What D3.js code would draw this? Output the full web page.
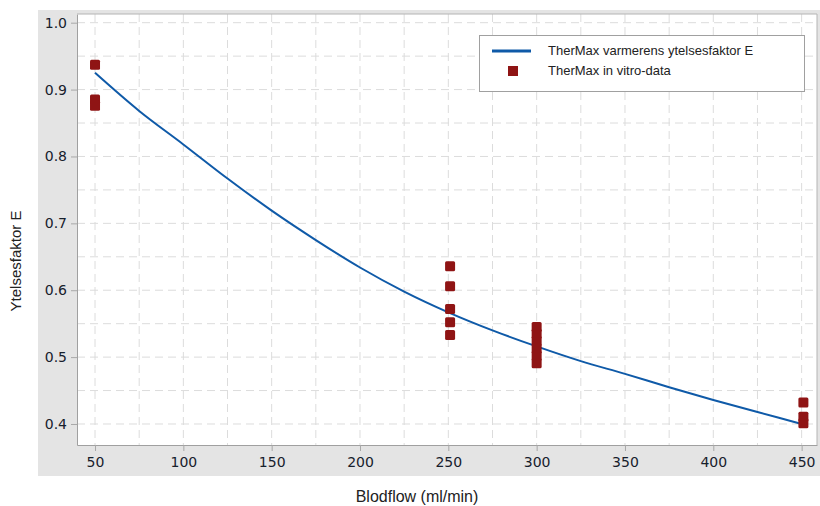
<!DOCTYPE html>
<html>
<head>
<meta charset="utf-8">
<script src="https://cdn.jsdelivr.net/npm/d3@7"></script>
<style>
  body { margin: 0; background: #fff; }
  svg { display: block; }
</style>
</head>
<body>
<div id="chart"></div>
<script>
// model curve: blood flow (ml/min) vs performance factor E
const curveFlow = [50, 75, 100, 125, 150, 175, 200, 225, 250, 275, 300, 325, 350, 375, 400, 425, 450];
const curveE = [0.925, 0.868, 0.818, 0.767, 0.719, 0.675, 0.634, 0.598, 0.567, 0.540, 0.516, 0.494, 0.475, 0.455, 0.436, 0.418, 0.400];

// in vitro measurements
const vitroFlow = [50, 50, 50, 251, 251, 251, 251, 251, 300, 300, 300, 300, 300, 300, 451, 451, 451];
const vitroE = [0.937, 0.885, 0.876, 0.636, 0.606, 0.572, 0.552, 0.533, 0.545, 0.535, 0.524, 0.513, 0.502, 0.491, 0.432, 0.411, 0.401];

const xTicks = [50, 100, 150, 200, 250, 300, 350, 400, 450];
const yTicks = [0.4, 0.5, 0.6, 0.7, 0.8, 0.9, 1.0];
const xGrid = d3.range(50, 451, 25);
const yGrid = d3.range(0.4, 1.001, 0.05);

const legendLabels = ["TherMax varmerens ytelsesfaktor E", "TherMax in vitro-data"];

const W = 820, H = 506;
const plot = {left: 77, top: 14, right: 817, bottom: 445};

const svg = d3.select("#chart").append("svg")
    .attr("width", W)
    .attr("height", H);

// gray panel behind the plot
svg.append("rect")
    .attr("x", 38).attr("y", 10)
    .attr("width", W - 38).attr("height", 466)
    .attr("fill", "#e4e4e4");

svg.append("rect")
    .attr("x", plot.left).attr("y", plot.top)
    .attr("width", plot.right - plot.left).attr("height", plot.bottom - plot.top)
    .attr("fill", "#fff");

var x = d3.scaleLinear().domain([39.8, 458.7]).range([plot.left, plot.right]);
var y = d3.scaleLinear().domain([0.3686, 1.013]).range([plot.bottom, plot.top]);

// dashed grid
svg.append("g")
    .selectAll("line")
    .data(xGrid)
    .enter().append("line")
    .attr("x1", d => x(d)).attr("x2", d => x(d))
    .attr("y1", plot.top).attr("y2", plot.bottom)
    .attr("stroke", "#dcdcdc")
    .attr("stroke-dasharray", "8,5");

svg.append("g")
    .selectAll("line")
    .data(yGrid)
    .enter().append("line")
    .attr("x1", plot.left).attr("x2", plot.right)
    .attr("y1", d => y(d)).attr("y2", d => y(d))
    .attr("stroke", "#dcdcdc")
    .attr("stroke-dasharray", "8,5");

// axes
var xAxis = svg.append("g")
    .attr("transform", "translate(0," + plot.bottom + ")")
    .call(d3.axisBottom(x).tickValues(xTicks).tickSize(6).tickPadding(6).tickSizeOuter(0));

var yAxis = svg.append("g")
    .attr("transform", "translate(" + plot.left + ",0)")
    .call(d3.axisLeft(y).tickValues(yTicks).tickFormat(d3.format(".1f")).tickSize(6).tickPadding(4).tickSizeOuter(0));

[xAxis, yAxis].forEach(function(a) {
    a.select(".domain").attr("stroke", "#a0a0a0");
    a.selectAll(".tick line").attr("stroke", "#a8a8a8");
    a.selectAll("text")
        .attr("fill", "#17202c")
        .style("font-family", "'DejaVu Sans', sans-serif")
        .style("font-size", "14px");
});

// top and right border
svg.append("path")
    .attr("d", "M" + plot.left + "," + plot.top + "H" + plot.right + "V" + plot.bottom)
    .attr("fill", "none")
    .attr("stroke", "#b4b4b4");

// model line
var line = d3.line()
    .x((d, i) => x(curveFlow[i]))
    .y(d => y(d))
    .curve(d3.curveMonotoneX);

svg.append("path")
    .datum(curveE)
    .attr("d", line)
    .attr("fill", "none")
    .attr("stroke", "#0f5aa8")
    .attr("stroke-width", 2);

// in vitro squares
var sq = 10;
svg.append("g")
    .selectAll("rect")
    .data(vitroE)
    .enter().append("rect")
    .attr("x", (d, i) => x(vitroFlow[i]) - sq / 2)
    .attr("y", d => y(d) - sq / 2)
    .attr("width", sq).attr("height", sq)
    .attr("rx", 1.5)
    .attr("fill", "#8f1414");

// axis titles
svg.append("text")
    .attr("x", 417)
    .attr("y", 502)
    .attr("text-anchor", "middle")
    .style("font-family", "'Liberation Sans', Arial, sans-serif")
    .style("font-size", "16px")
    .attr("fill", "#222")
    .text("Blodflow (ml/min)");

svg.append("text")
    .attr("transform", "translate(21,261) rotate(-90)")
    .attr("text-anchor", "middle")
    .style("font-family", "'Liberation Sans', Arial, sans-serif")
    .style("font-size", "15px")
    .attr("fill", "#222")
    .text("Ytelsesfaktor E");

// legend
var legend = svg.append("g");
legend.append("rect")
    .attr("x", 479.5).attr("y", 35.5)
    .attr("width", 325).attr("height", 56)
    .attr("fill", "#fff")
    .attr("stroke", "#a0a0a0");

legend.append("line")
    .attr("x1", 492).attr("x2", 531)
    .attr("y1", 51).attr("y2", 51)
    .attr("stroke", "#0f5aa8")
    .attr("stroke-width", 3);

legend.append("rect")
    .attr("x", 508).attr("y", 66)
    .attr("width", 10).attr("height", 10)
    .attr("fill", "#8f1414");

legend.selectAll("text.lbl")
    .data(legendLabels)
    .enter().append("text")
    .attr("class", "lbl")
    .attr("x", 548)
    .attr("y", (d, i) => 55 + i * 20)
    .style("font-family", "'Liberation Sans', Arial, sans-serif")
    .style("font-size", "13px")
    .attr("fill", "#222")
    .text(d => d);
</script>
</body>
</html>
